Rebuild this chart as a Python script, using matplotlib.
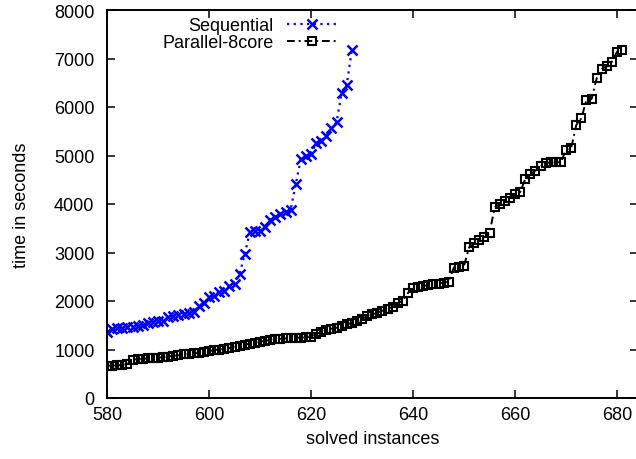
import matplotlib
matplotlib.use("Agg")
import matplotlib.pyplot as plt
import numpy as np

plt.rcParams['font.family'] = ['Liberation Sans', 'DejaVu Sans']

seq_x = list(range(580, 629))
seq_y = [1360, 1420, 1440, 1450, 1460, 1470, 1480, 1500, 1540, 1560,
         1580, 1590, 1660, 1700, 1710, 1740, 1760, 1770, 1900, 1960,
         2080, 2110, 2180, 2200, 2310, 2350, 2555, 2970, 3415, 3435,
         3440, 3520, 3680, 3725, 3795, 3835, 3880, 4410, 4930, 5000,
         5030, 5260, 5305, 5410, 5560, 5685, 6290, 6455, 7180]

par_x = list(range(580, 682))
par_y = [665, 670, 675, 680, 700, 790, 800, 810, 815, 820,
         830, 845, 855, 870, 880, 900, 910, 920, 930, 945,
         965, 990, 1000, 1010, 1030, 1060, 1080, 1100, 1120, 1140,
         1160, 1180, 1195, 1210, 1220, 1230, 1235, 1240, 1245, 1250,
         1260, 1320, 1360, 1400, 1430, 1450, 1480, 1520, 1550, 1580,
         1620, 1700, 1730, 1760, 1800, 1840, 1880, 1950, 2010, 2165,
         2260, 2290, 2310, 2330, 2345, 2360, 2380, 2400, 2690, 2710,
         2730, 3105, 3190, 3265, 3320, 3400, 3930, 4000, 4070, 4120,
         4210, 4245, 4515, 4620, 4690, 4780, 4845, 4860, 4860, 4865,
         5120, 5150, 5630, 5765, 6150, 6165, 6590, 6785, 6840, 6935,
         7140, 7180]

x_ticks = [580, 600, 620, 640, 660, 680]
y_ticks = [0, 1000, 2000, 3000, 4000, 5000, 6000, 7000, 8000]

fig = plt.figure(figsize=(6.36, 4.60), dpi=100)
ax = fig.add_axes([107/636, 61/460, (638.5-107)/636, 388/460])

ax.plot(seq_x, seq_y, color='#0000ff', linestyle=(0, (1, 2)), linewidth=1.6,
        marker='x', markersize=6.8, markeredgewidth=1.8, label='Sequential')
ax.plot(par_x, par_y, color='black', linestyle=(0, (4, 2, 1, 2)), linewidth=1.4,
        marker='s', markersize=6.3, markeredgewidth=1.5, markerfacecolor='none',
        label='Parallel-8core')

ax.set_xlim(580, 684.2)
ax.set_ylim(0, 8000)
ax.set_xticks(x_ticks)
ax.set_yticks(y_ticks)
ax.tick_params(direction='in', length=6, width=1.1, top=True, right=True,
               labelsize=13)
ax.tick_params(axis='y', pad=9)
ax.tick_params(axis='x', pad=6)
for s in ax.spines.values():
    s.set_linewidth(1.4)

ax.set_xlabel('solved instances', fontsize=13, labelpad=5)
ax.set_ylabel('time in seconds', fontsize=13, labelpad=17)

leg = ax.legend(loc='upper right', bbox_to_anchor=(0.431, 0.982),
                frameon=False, markerfirst=False, numpoints=1,
                fontsize=13, borderpad=0, borderaxespad=0,
                labelspacing=0.0, handlelength=2.7, handletextpad=0.75)

fig.savefig('out.png', dpi=100)
